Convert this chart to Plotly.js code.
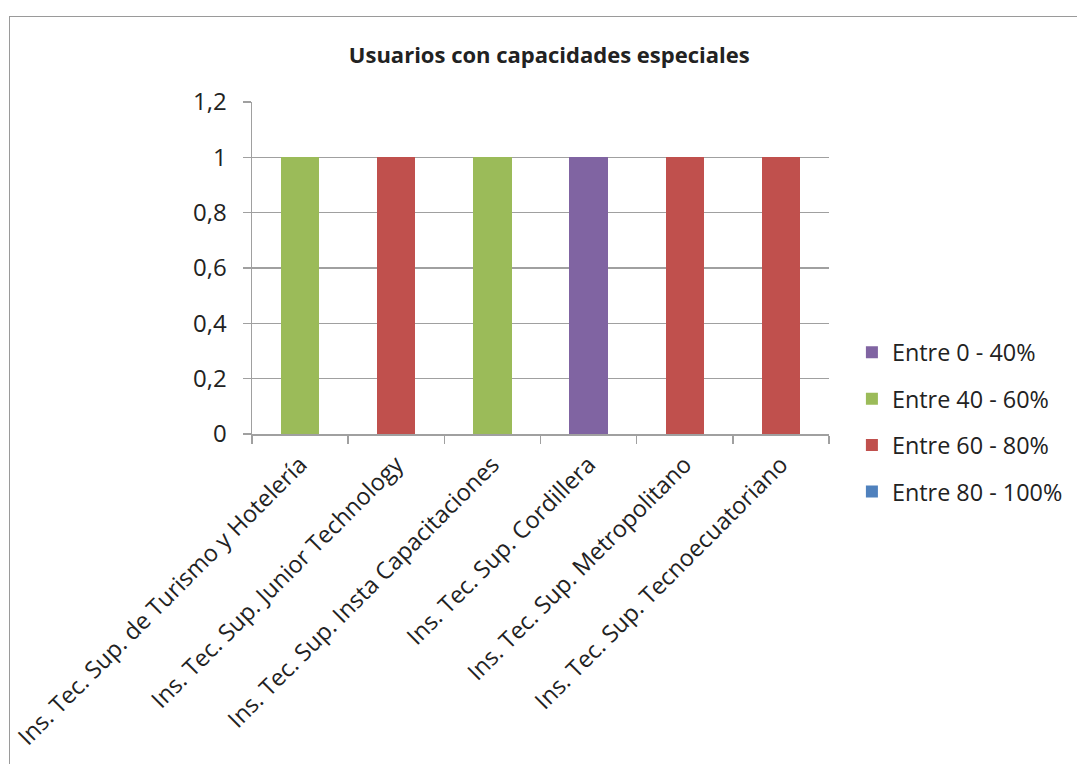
<!DOCTYPE html>
<html>
<head>
<meta charset="utf-8">
<script src="https://cdn.plot.ly/plotly-3.0.1.min.js"></script>
<style>
html,body{margin:0;padding:0;background:#fff;overflow:hidden;}
#wrap{position:relative;width:1077px;height:764px;}
#chart{position:absolute;left:0;top:0;width:1077px;height:764px;}
#frame{position:absolute;left:9px;top:16px;width:1200px;height:900px;border:1.5px solid #9a9a9a;pointer-events:none;}
</style>
</head>
<body>
<div id="wrap"><div id="chart"></div><div id="frame"></div></div>
<script>
const categories = [
  "Ins. Tec. Sup. de Turismo y Hotelería",
  "Ins. Tec. Sup. Junior Technology",
  "Ins. Tec. Sup. Insta Capacitaciones",
  "Ins. Tec. Sup. Cordillera",
  "Ins. Tec. Sup. Metropolitano",
  "Ins. Tec. Sup. Tecnoecuatoriano"
];
const seriesNames = ["Entre 0 - 40%", "Entre 40 - 60%", "Entre 60 - 80%", "Entre 80 - 100%"];
const entre0_40   = [0, 0, 0, 1, 0, 0];
const entre40_60  = [1, 0, 1, 0, 0, 0];
const entre60_80  = [0, 1, 0, 0, 1, 1];
const entre80_100 = [0, 0, 0, 0, 0, 0];
const seriesColors = ["#8064A2", "#9BBB59", "#C0504D", "#4F81BD"];
const yTickVals = [0, 0.2, 0.4, 0.6, 0.8, 1, 1.2];
const yTickText = ["0", "0,2", "0,4", "0,6", "0,8", "1", "1,2"];
const chartTitle = "Usuarios con capacidades especiales";

const seriesValues = [entre0_40, entre40_60, entre60_80, entre80_100];
const FONT = "'Open Sans', Lato, sans-serif";
const traces = seriesValues.map((vals, i) => ({
  type: "bar",
  name: seriesNames[i],
  x: categories,
  y: vals,
  marker: {color: seriesColors[i], line: {width: 0}},
  legendgroup: "g" + i,
  hoverinfo: "name+y"
}));

const layout = {
  width: 1077, height: 764,
  paper_bgcolor: "rgba(0,0,0,0)", plot_bgcolor: "#fff",
  margin: {l: 252, r: 248, t: 102, b: 330, pad: 0, autoexpand: false},
  barmode: "stack",
  bargap: 0.6,
  font: {family: FONT, color: "#222"},
  title: {text: "<b>" + chartTitle + "</b>", x: 0.51, xanchor: "center", y: 0.928, yanchor: "middle",
          font: {family: FONT, size: 22, color: "#222"}},
  xaxis: {
    type: "category",
    showgrid: false,
    showline: true, linecolor: "#a0a0a0", linewidth: 1.5,
    ticks: "outside", tickson: "boundaries", ticklen: 8, tickcolor: "#a0a0a0", tickwidth: 1.5,
    tickangle: -45,
    ticklabelstandoff: 6,
    tickfont: {family: FONT, size: 23.5, color: "#222"},
    fixedrange: true
  },
  yaxis: {
    range: [0, 1.2],
    tickvals: yTickVals, ticktext: yTickText,
    showgrid: true, gridcolor: "#a0a0a0", gridwidth: 1.5,
    showline: true, linecolor: "#a0a0a0", linewidth: 1.5,
    ticks: "outside", ticklen: 8, tickcolor: "#a0a0a0", tickwidth: 1.5,
    ticklabelstandoff: 11,
    zeroline: false,
    tickfont: {family: FONT, size: 24, color: "#222"},
    fixedrange: true
  },
  legend: {
    x: 0.791, xref: "container", xanchor: "left",
    y: 0.036, yanchor: "middle",
    traceorder: "grouped",
    tracegroupgap: 13,
    font: {family: FONT, size: 23.4, color: "#222"},
    bgcolor: "rgba(0,0,0,0)",
    itemwidth: 30
  },
  showlegend: true
};

Plotly.newPlot("chart", traces, layout, {displayModeBar: false, staticPlot: true});
</script>
</body>
</html>
